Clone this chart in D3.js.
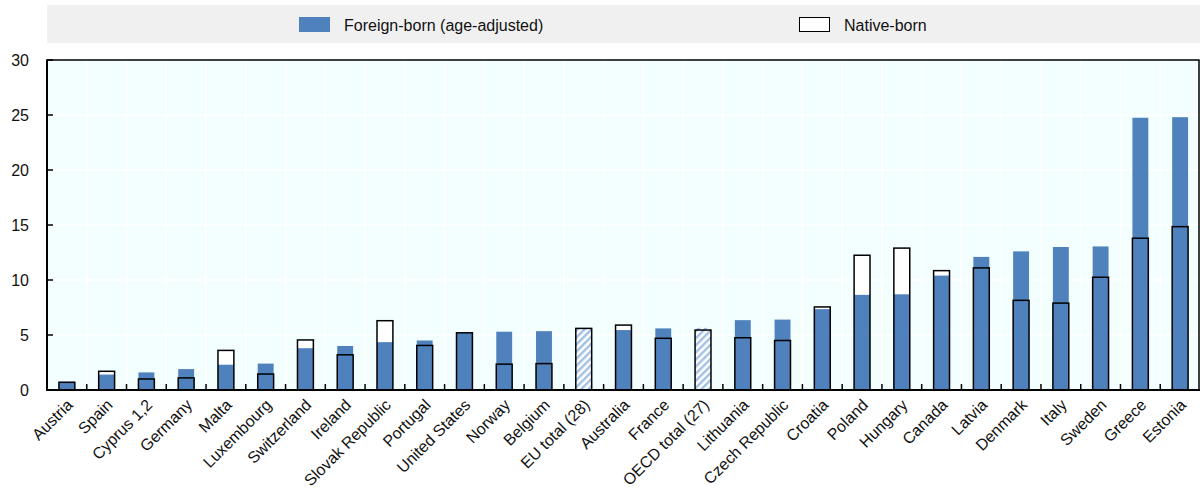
<!DOCTYPE html>
<html>
<head>
<meta charset="utf-8">
<script src="https://cdn.jsdelivr.net/npm/d3@7"></script>
<style>
  body { margin: 0; background: #ffffff; }
  text { font-family: "Liberation Sans", Arial, sans-serif; fill: #111; }
</style>
</head>
<body>
<svg id="chart" width="1200" height="494"></svg>
<script>
// ---- Data ----
const categories = ["Austria","Spain","Cyprus 1,2","Germany","Malta","Luxembourg","Switzerland","Ireland","Slovak Republic","Portugal","United States","Norway","Belgium","EU total (28)","Australia","France","OECD total (27)","Lithuania","Czech Republic","Croatia","Poland","Hungary","Canada","Latvia","Denmark","Italy","Sweden","Greece","Estonia"];
const foreignBorn = [0.75,1.4,1.6,1.9,2.3,2.4,3.8,4.0,4.35,4.5,5.2,5.3,5.35,5.55,5.45,5.6,5.65,6.35,6.4,7.35,8.65,8.7,10.4,12.1,12.6,13.0,13.05,24.75,24.8];
const nativeBorn  = [0.7,1.7,1.0,1.1,3.6,1.45,4.55,3.2,6.3,4.05,5.2,2.35,2.4,5.6,5.9,4.7,5.45,4.75,4.5,7.55,12.25,12.9,10.85,11.1,8.15,7.9,10.25,13.8,14.85];
const hatchedCategories = ["EU total (28)","OECD total (27)"];
const yTickValues = [0,5,10,15,20,25,30];
const legendLabels = ["Foreign-born (age-adjusted)","Native-born"];

// ---- Layout ----
const svg = d3.select("#chart");
const pLeft = 47, pRight = 1200, pTop = 60, pBottom = 390;
const blue = "#4f81bd";

const data = categories.map((c, i) => ({ c, f: foreignBorn[i], n: nativeBorn[i], hatch: hatchedCategories.includes(c) }));

const x = d3.scaleBand().domain(categories).range([pLeft, pRight]).paddingInner(0.6).paddingOuter(0.3);
const y = d3.scaleLinear().domain([0, 30]).range([pBottom, pTop]);
const step = x.step();

// pattern
const defs = svg.append("defs");
const pat = defs.append("pattern").attr("id", "hatch").attr("patternUnits", "userSpaceOnUse")
  .attr("width", 5).attr("height", 5).attr("patternTransform", "rotate(45)");
pat.append("rect").attr("width", 5).attr("height", 5).attr("fill", "#ffffff");
pat.append("rect").attr("width", 2.4).attr("height", 5).attr("fill", "#9fc0e4");

// legend
svg.append("rect").attr("x", pLeft).attr("y", 5).attr("width", pRight - pLeft).attr("height", 38).attr("fill", "#f0f0f0");
svg.append("rect").attr("x", 299).attr("y", 17).attr("width", 31).attr("height", 15).attr("fill", blue);
svg.append("text").attr("x", 344).attr("y", 30.5).attr("font-size", 16).text(legendLabels[0]);
svg.append("rect").attr("x", 799.5).attr("y", 17.5).attr("width", 30).attr("height", 14).attr("fill", "#ffffff").attr("stroke", "#000").attr("stroke-width", 1);
svg.append("text").attr("x", 844).attr("y", 30.5).attr("font-size", 16).text(legendLabels[1]);

// plot background
svg.append("rect").attr("x", pLeft).attr("y", pTop).attr("width", pRight - pLeft).attr("height", pBottom - pTop).attr("fill", "#f3feff");

// gridlines
const boundaries = categories.slice(1).map(c => x(c) - (step - x.bandwidth()) / 2);
svg.append("g").selectAll("line").data(boundaries).join("line")
  .attr("x1", d => d).attr("x2", d => d).attr("y1", pTop).attr("y2", pBottom)
  .attr("stroke", "#ffffff").attr("stroke-width", 1.5);
svg.append("g").selectAll("line").data(yTickValues.slice(1, -1)).join("line")
  .attr("x1", pLeft).attr("x2", pRight).attr("y1", d => y(d)).attr("y2", d => y(d))
  .attr("stroke", "#ffffff").attr("stroke-width", 1.5);

// bars
const bars = svg.append("g");
bars.selectAll("rect.nfill").data(data).join("rect").attr("class", "nfill")
  .attr("x", d => x(d.c)).attr("width", x.bandwidth())
  .attr("y", d => y(d.n)).attr("height", d => y(0) - y(d.n)).attr("fill", "#ffffff");
bars.selectAll("rect.f").data(data).join("rect").attr("class", "f")
  .attr("x", d => x(d.c)).attr("width", x.bandwidth())
  .attr("y", d => y(d.f)).attr("height", d => y(0) - y(d.f))
  .attr("fill", d => d.hatch ? "url(#hatch)" : blue);
bars.selectAll("rect.nout").data(data).join("rect").attr("class", "nout")
  .attr("x", d => x(d.c)).attr("width", x.bandwidth())
  .attr("y", d => y(d.n)).attr("height", d => y(0) - y(d.n))
  .attr("fill", "none").attr("stroke", "#000").attr("stroke-width", 1.5);

// frame / axes
svg.append("rect").attr("x", pLeft).attr("y", pTop).attr("width", pRight - 1 - pLeft).attr("height", pBottom - pTop)
  .attr("fill", "none").attr("stroke", "#000").attr("stroke-width", 1.5);
svg.append("line").attr("x1", pLeft).attr("x2", pLeft).attr("y1", pTop).attr("y2", pBottom + 1).attr("stroke", "#000").attr("stroke-width", 2);
svg.append("line").attr("x1", pLeft - 1).attr("x2", pRight).attr("y1", pBottom).attr("y2", pBottom).attr("stroke", "#000").attr("stroke-width", 2);

// y ticks + labels
const yAxis = svg.append("g");
yAxis.selectAll("line").data(yTickValues).join("line")
  .attr("x1", pLeft).attr("x2", pLeft + 6).attr("y1", d => y(d)).attr("y2", d => y(d))
  .attr("stroke", "#000").attr("stroke-width", 1.5);
yAxis.selectAll("text").data(yTickValues).join("text")
  .attr("x", 29).attr("y", d => y(d)).attr("dy", "0.35em").attr("text-anchor", "end")
  .attr("font-size", 16).text(d => d);

// x ticks + labels
svg.append("g").selectAll("line").data(boundaries).join("line")
  .attr("x1", d => d).attr("x2", d => d).attr("y1", pBottom).attr("y2", pBottom - 6)
  .attr("stroke", "#000").attr("stroke-width", 1.5);
svg.append("g").selectAll("text").data(categories).join("text")
  .attr("transform", c => `translate(${x(c) + x.bandwidth() / 2 + 3},${pBottom + 12}) rotate(-45)`)
  .attr("text-anchor", "end").attr("dy", "0.35em").attr("font-size", 16).text(c => c);
</script>
</body>
</html>
